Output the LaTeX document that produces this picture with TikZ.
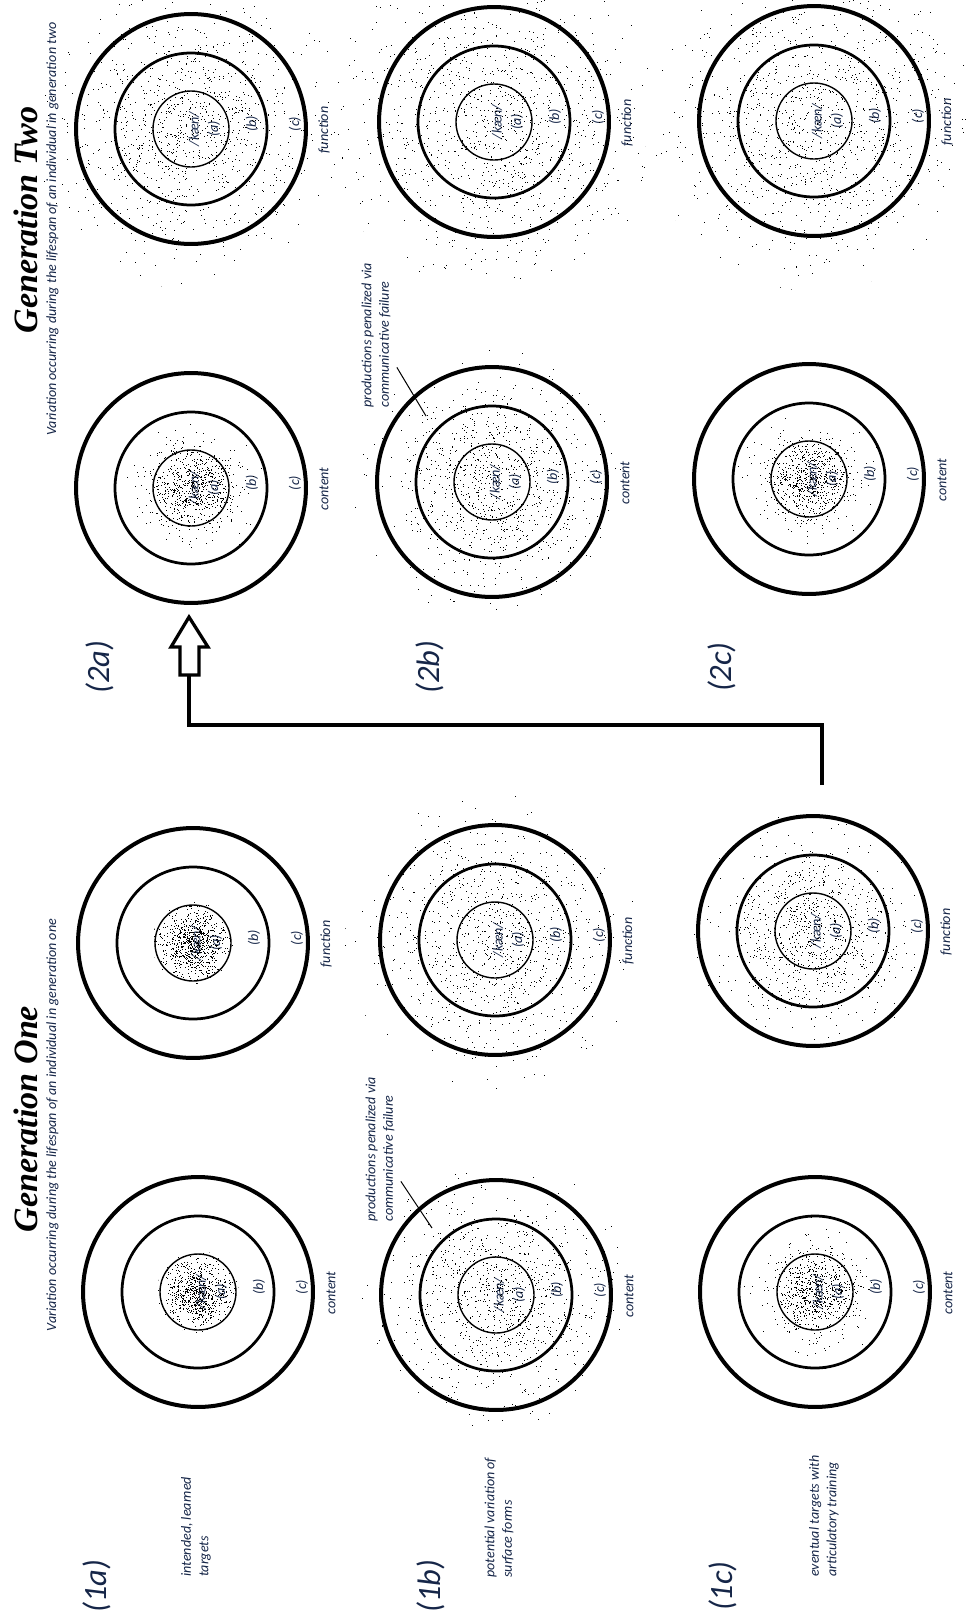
\documentclass[tikz,border=0pt]{standalone}
\usepackage{fontspec}
\setmainfont{Carlito}
\newfontfamily\headfont{Liberation Serif}
\usetikzlibrary{calc}
\definecolor{ink}{RGB}{22,38,72}

\tikzset{
  ring/.style={circle, draw, line width=0.08cm, minimum size=4.6cm, inner sep=0pt},
  lbl/.style={text=ink, font=\itshape\fontsize{8}{10}\selectfont, rotate=90, inner sep=0pt},
  note/.style={lbl, align=left, anchor=west},
  tag/.style={text=ink, font=\itshape\fontsize{18.5}{20}\selectfont, rotate=90, inner sep=0pt},
  head/.style={font=\headfont\bfseries\itshape\fontsize{19.4}{22}\selectfont, rotate=90, inner sep=0pt, anchor=base},
  conn/.style={line width=0.08cm},
}

% one target: name, centre, word under it
\newcommand\target[3]{%
  \node[ring] (#1) at (#2) {};
  \draw[line width=0.055cm] (#1) circle[radius=76];
  \draw[line width=0.028cm] (#1) circle[radius=38];
  \node[lbl] (#1k) at ($(#1)+(3,0)$) {/kæn/};
  \node[lbl] (#1a) at ($(#1)+(23,0)$) {(a)};
  \node[lbl] (#1b) at ($(#1)+(61,-5)$) {(b)};
  \node[lbl] (#1c) at ($(#1)+(104,-5)$) {(c)};
  \node[lbl] (#1w) at ($(#1)+(133,1)$) {#3};
}

% scattered productions: centre, spread, dots, clip radius, seed
\newcommand\speckle[5]{%
  \begin{scope}
    \clip (#1) circle[radius=#4];
    \pgfmathsetseed{#5}
    \foreach \k in {1,...,#3}{
      \pgfmathsetmacro\rr{#2*sqrt(-2*ln(1-0.998*rnd))}
      \pgfmathsetmacro\aa{360*rnd}
      \fill (#1) ++(\aa:\rr) rectangle ++(1,1);
    }
  \end{scope}
}

\begin{document}
\begin{tikzpicture}[x=0.02cm, y=-0.02cm]
  \useasboundingbox (0,0) rectangle (965,1616);
  \fill[white] (0,0) rectangle (965,1616);

  % titles
  \node[head] (gen1) at (37,1119) {Generation One};
  \node[head] (gen2) at (37,220) {Generation Two};
  \node[lbl, anchor=base] (sub1) at (56,1125) {Variation occurring during the lifespan of an individual in generation one};
  \node[lbl, anchor=base] (sub2) at (56,229) {Variation occurring during the lifespan of an individual in generation two};

  % row tags
  \node[tag] (t1a) at (97,1586) {(1a)};
  \node[tag] (t1b) at (431,1586) {(1b)};
  \node[tag] (t1c) at (723,1586) {(1c)};
  \node[tag] (t2a) at (100,667) {(2a)};
  \node[tag] (t2b) at (430,667) {(2b)};
  \node[tag] (t2c) at (722,667) {(2c)};

  \node[note] (n1a) at (196,1577) {intended, learned\\targets};
  \node[note] (n1b) at (499,1578) {potential variation of\\surface forms};
  \node[note] (n1c) at (824,1577) {eventual targets with\\articulatory training};

  % generation one
  \target{c1a}{198,1292}{content}
  \target{f1a}{193,943}{function}
  \target{c1b}{496,1295}{content}
  \target{f1b}{495,940}{function}
  \target{c1c}{815,1292}{content}
  \target{f1c}{813,931}{function}
  % generation two
  \target{c2a}{191,488}{content}
  \target{f2a}{191,129}{function}
  \target{c2b}{492,482}{content}
  \target{f2b}{494,122}{function}
  \target{c2c}{809,479}{content}
  \target{f2c}{814,121}{function}

  \speckle{c1a}{17}{750}{41}{11}
  \speckle{f1a}{17}{800}{41}{12}
  \speckle{c1b}{50}{1000}{140}{13}
  \speckle{f1b}{55}{1000}{150}{14}
  \speckle{c1c}{22}{750}{90}{15}
  \speckle{f1c}{42}{950}{120}{16}
  \speckle{c2a}{22}{750}{90}{17}
  \speckle{f2a}{60}{1100}{160}{18}
  \speckle{c2b}{48}{1000}{140}{19}
  \speckle{f2b}{70}{1150}{170}{20}
  \speckle{c2c}{22}{750}{90}{21}
  \speckle{f2c}{70}{1150}{170}{22}

  % penalized productions
  \node[note] (pen1) at (380,1222) {productions penalized via\\communicative failure};
  \node[note] (pen2) at (376,408) {productions penalized via\\communicative failure};
  \draw[line width=0.02cm] ($(pen1.south west)!0.28!(pen1.south east)+(6,0)$) -- ($(c1b)+(-64,-67)$);
  \draw[line width=0.02cm] ($(pen2.south west)!0.28!(pen2.south east)+(6,0)$) -- ($(c2b)+(-66,-66)$);

  % passing on to generation two
  \coordinate (tail) at (822,785);
  \coordinate (tip) at (189,617);
  \draw[conn] (tail) |- ($(tip)+(0,108)$) -- ($(tip)+(0,58)$);
  \draw[line width=0.065cm, fill=white, line join=miter] (tip) -- ++(19,30) -- ++(-9,0) -- ++(0,28)
    -- ++(-19,0) -- ++(0,-28) -- ++(-9,0) -- cycle;
\end{tikzpicture}
\end{document}
